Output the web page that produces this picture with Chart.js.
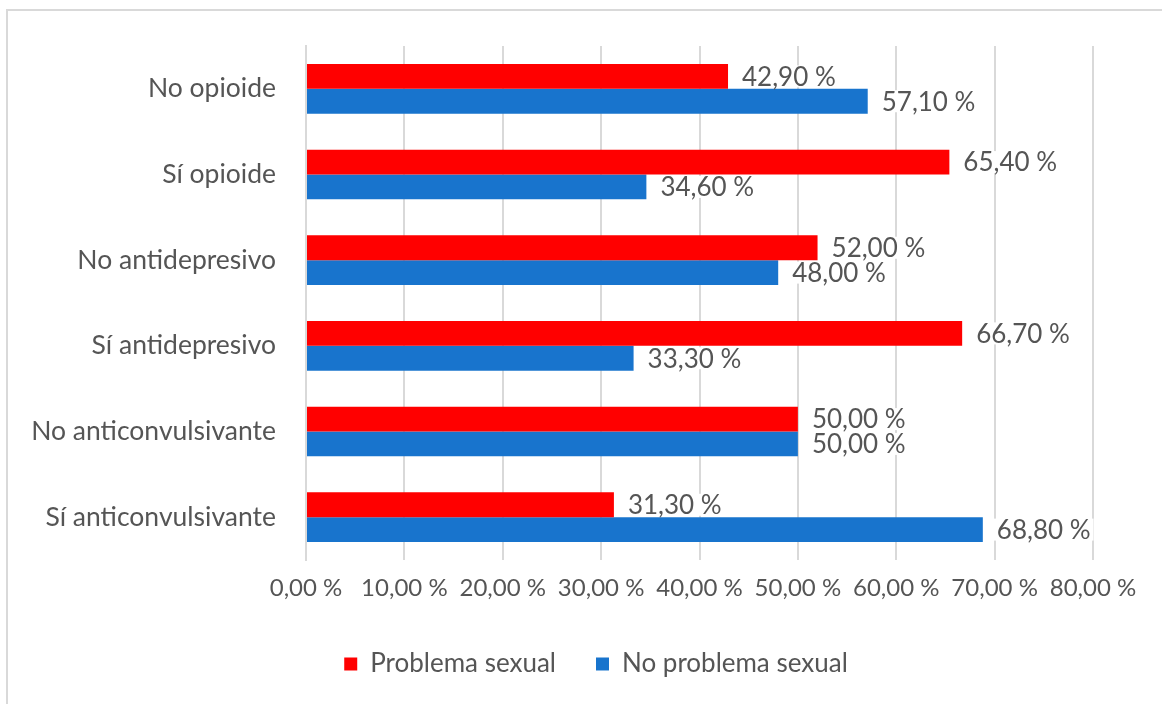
<!DOCTYPE html>
<html><head><meta charset="utf-8">
<script src="https://cdn.jsdelivr.net/npm/chart.js@4.4.1/dist/chart.umd.min.js"></script>
<style>
html,body{margin:0;padding:0;background:#fff;}
#wrap{position:relative;width:1162px;height:704px;overflow:hidden;}
#frame{position:absolute;left:6px;top:9px;width:1200px;height:800px;border-left:2px solid #d9d9d9;border-top:2px solid #d9d9d9;}
canvas{position:absolute;left:0;top:0;}
</style></head><body>
<div id="wrap"><div id="frame"></div><canvas id="c" width="1162" height="704"></canvas></div>
<script>
const categories = ['No opioide','Sí opioide','No antidepresivo','Sí antidepresivo','No anticonvulsivante','Sí anticonvulsivante'];
const seriesNames = ['Problema sexual','No problema sexual'];
const problemaSexual = [42.9, 65.4, 52.0, 66.7, 50.0, 31.3];
const noProblemaSexual = [57.1, 34.6, 48.0, 33.3, 50.0, 68.8];
const xTickValues = [0, 10, 20, 30, 40, 50, 60, 70, 80];
const fmt = v => Number(v).toFixed(2).replace('.', ',') + ' %';

const FONT = 'Lato';
const TEXT = '#555555';

const valueLabels = {
  id: 'valueLabels',
  afterDatasetsDraw(chart) {
    const ctx = chart.ctx;
    ctx.save();
    ctx.font = '26px ' + FONT;
    ctx.textBaseline = 'middle';
    ctx.textAlign = 'left';
    chart.data.datasets.forEach((ds, i) => {
      const meta = chart.getDatasetMeta(i);
      meta.data.forEach((bar, j) => {
        const t = fmt(ds.data[j]);
        const w = ctx.measureText(t).width;
        const x = bar.x + 14, y = bar.y;
        ctx.fillStyle = '#fff';
        ctx.fillRect(x - 3, y - 11, w + 6, 22);
        ctx.fillStyle = TEXT;
        ctx.fillText(t, x, y + 1);
      });
    });
    ctx.restore();
  }
};

function draw() {
  new Chart(document.getElementById('c'), {
    type: 'bar',
    data: {
      labels: categories,
      datasets: [
        { label: seriesNames[0], data: problemaSexual, backgroundColor: '#FF0000', borderWidth: 0 },
        { label: seriesNames[1], data: noProblemaSexual, backgroundColor: '#1874CD', borderWidth: 0 }
      ]
    },
    options: {
      indexAxis: 'y',
      responsive: false,
      animation: false,
      categoryPercentage: 0.58,
      barPercentage: 1,
      layout: { padding: { left: 99, right: 69, top: 46, bottom: 17 } },
      plugins: {
        legend: {
          position: 'bottom',
          labels: { font: { family: FONT, size: 26 }, color: TEXT, boxWidth: 13, boxHeight: 13, padding: 40 }
        },
        tooltip: { enabled: false }
      },
      scales: {
        x: {
          min: 0, max: 80,
          afterBuildTicks: s => { s.ticks = xTickValues.map(v => ({ value: v })); },
          ticks: { callback: v => fmt(v), color: TEXT, font: { family: FONT, size: 24 }, padding: 14, maxRotation: 0, autoSkip: false },
          grid: { color: '#d9d9d9', lineWidth: 2, drawTicks: false },
          border: { display: false },
          afterFit: s => { s.height = 51; }
        },
        y: {
          ticks: { color: TEXT, font: { family: FONT, size: 26.5 }, padding: 30, autoSkip: false },
          grid: { display: false, drawTicks: false },
          border: { display: true, color: '#d9d9d9', width: 2 },
          afterFit: s => {
            s.width = 207;
            s._computeLabelArea = () => ({ top: 0, left: 0, bottom: s.chart.height, right: s.right });
          }
        }
      }
    },
    plugins: [valueLabels]
  });
}
if (document.fonts && document.fonts.load) {
  document.fonts.load('24px ' + FONT).then(draw, draw);
} else { draw(); }
</script>
</body></html>
